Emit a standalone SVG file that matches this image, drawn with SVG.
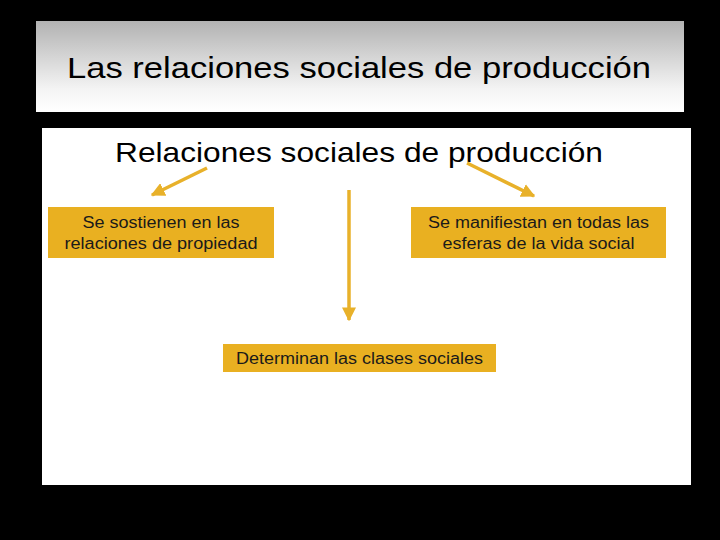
<svg xmlns="http://www.w3.org/2000/svg" width="720" height="540" viewBox="0 0 720 540">
  <defs>
    <linearGradient id="titleGrad" x1="0" y1="0" x2="0" y2="1">
      <stop offset="0" stop-color="#b2b2b2"/>
      <stop offset="0.75" stop-color="#f4f4f4"/>
      <stop offset="1" stop-color="#ffffff"/>
    </linearGradient>
    <marker id="arrow" viewBox="0 0 10 10" refX="9" refY="5" markerWidth="4" markerHeight="4" orient="auto" markerUnits="strokeWidth">
      <path d="M0,0 L10,5 L0,10 z" fill="#e8b12a"/>
    </marker>
    <style>
      .box { fill: #e9b021; }
      .boxtxt { font-family: "Liberation Sans", Arial, sans-serif; font-size: 16px; fill: #1a1a1a; text-anchor: middle; }
      .conn { stroke: #e8b12a; stroke-width: 3.5; fill: none; marker-end: url(#arrow); }
    </style>
  </defs>
  <rect x="0" y="0" width="720" height="540" fill="#000000"/>
  <g id="title">
    <rect x="36" y="21" width="648" height="91" fill="url(#titleGrad)"/>
    <text x="67" y="78" font-family="Liberation Sans, Arial, sans-serif" font-size="30" fill="#000000" textLength="584" lengthAdjust="spacingAndGlyphs">Las relaciones sociales de producción</text>
  </g>
  <rect x="42" y="128" width="649" height="357" fill="#ffffff"/>
  <g id="root">
    <text x="115" y="162" font-family="Liberation Sans, Arial, sans-serif" font-size="28" fill="#000000" textLength="488" lengthAdjust="spacingAndGlyphs">Relaciones sociales de producción</text>
  </g>
  <g id="connectors">
    <line class="conn" x1="207" y1="168" x2="152" y2="195"/>
    <line class="conn" x1="467" y1="163" x2="534" y2="196"/>
    <line class="conn" x1="349" y1="190" x2="349" y2="320"/>
  </g>
  <g id="node-propiedad">
    <rect class="box" x="48" y="207" width="226" height="51"/>
    <text class="boxtxt" x="161" y="228" textLength="157" lengthAdjust="spacingAndGlyphs">Se sostienen en las</text>
    <text class="boxtxt" x="161" y="249" textLength="193" lengthAdjust="spacingAndGlyphs">relaciones de propiedad</text>
  </g>
  <g id="node-esferas">
    <rect class="box" x="411" y="207" width="255" height="51"/>
    <text class="boxtxt" x="538.5" y="228" textLength="221" lengthAdjust="spacingAndGlyphs">Se manifiestan en todas las</text>
    <text class="boxtxt" x="538.5" y="249" textLength="192" lengthAdjust="spacingAndGlyphs">esferas de la vida social</text>
  </g>
  <g id="node-clases">
    <rect class="box" x="223" y="344" width="273" height="28"/>
    <text class="boxtxt" x="359.5" y="364" textLength="247" lengthAdjust="spacingAndGlyphs">Determinan las clases sociales</text>
  </g>
</svg>
